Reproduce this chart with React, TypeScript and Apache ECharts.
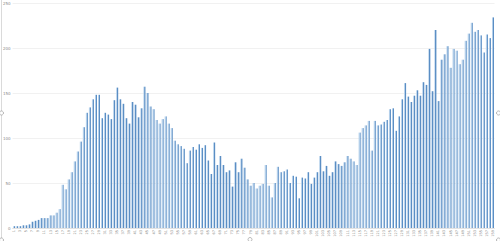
import React, { useEffect, useRef } from "react";
import * as echarts from "echarts";

const values: number[] = [
  2, 2, 2, 3, 3, 4, 7, 8, 9, 11, 11, 11, 14, 14, 17, 21,
  48, 43, 54, 62, 74, 85, 96, 112, 128, 134, 143, 148, 148,
  122, 128, 126, 121, 142, 156, 143, 138, 122, 116,
  140, 137, 123, 133, 157, 150, 135, 132, 120, 116, 121, 124, 116,
  111, 97, 93, 91, 88, 72, 86, 90, 87, 93, 89, 92, 75, 60, 95, 70,
  80, 70, 62, 64, 46, 73, 62, 77, 67, 54, 47, 50, 44, 47, 49, 70,
  47, 34, 50, 68, 62, 63, 65, 50, 58, 57, 33, 56, 55, 62, 49, 56,
  62, 80, 63, 69, 58, 62, 74, 71, 69, 73, 80, 77, 74, 70, 106, 111,
  114, 119, 86, 119, 114, 115, 118, 120, 132, 133, 108, 124, 143, 161,
  146, 140, 147, 153, 147, 162, 159, 199, 152, 220, 141, 187, 193, 202,
  178, 199, 197, 182, 187, 208, 216, 228, 218, 220, 214, 195, 215, 211, 234,
];

const categories: string[] = values.map((_, i) => String(i + 1));

const yMin = 0;
const yMax = 250;
const yInterval = 50;

export default function App() {
  const ref = useRef<HTMLDivElement>(null);

  useEffect(() => {
    document.body.style.margin = "0";
    if (!ref.current) return;
    const chart = echarts.init(ref.current, undefined, { renderer: "svg" });
    const handle = (x: number, y: number) => ({
      type: "circle",
      shape: { cx: x, cy: y, r: 2 },
      style: { fill: "#ffffff", stroke: "#9a9a9a", lineWidth: 0.7 },
      z: 100,
    });
    chart.setOption({
      animation: false,
      backgroundColor: "#ffffff",
      grid: { left: 12.5, right: 5.5, top: 3, bottom: 13, containLabel: false },
      xAxis: {
        type: "category",
        data: categories,
        axisLine: { show: true, lineStyle: { color: "#d9d9d9", width: 0.6 } },
        axisTick: { show: false },
        axisLabel: {
          interval: 1,
          rotate: 90,
          fontSize: 3.5,
          color: "#8a8a8a",
          margin: 2,
          fontFamily: "DejaVu Sans",
        },
      },
      yAxis: {
        type: "value",
        min: yMin,
        max: yMax,
        interval: yInterval,
        axisLine: { show: false },
        axisTick: { show: false },
        axisLabel: { fontSize: 4, color: "#8a8a8a", margin: 2, fontFamily: "DejaVu Sans" },
        splitLine: { lineStyle: { color: "#e8e8e8", width: 0.6 } },
      },
      series: [
        {
          type: "bar",
          data: values,
          barWidth: 2,
          itemStyle: {
            color: new echarts.graphic.LinearGradient(0, 0, 1, 0, [
              { offset: 0, color: "#b3cfea" },
              { offset: 0.45, color: "#b3cfea" },
              { offset: 0.55, color: "#5b8ec4" },
              { offset: 1, color: "#5b8ec4" },
            ]),
          },
        },
      ],
      graphic: [
        {
          type: "line",
          shape: { x1: 1.5, y1: 0, x2: 1.5, y2: 241 },
          style: { stroke: "#d0d0d0", lineWidth: 0.8 },
          z: 90,
        },
        handle(1.5, 113),
        handle(498.5, 113),
        handle(250, 239.5),
        handle(1.5, 240),
        handle(498.5, 240),
      ],
    });
    return () => chart.dispose();
  }, []);

  return <div ref={ref} style={{ width: 500, height: 241 }} />;
}
